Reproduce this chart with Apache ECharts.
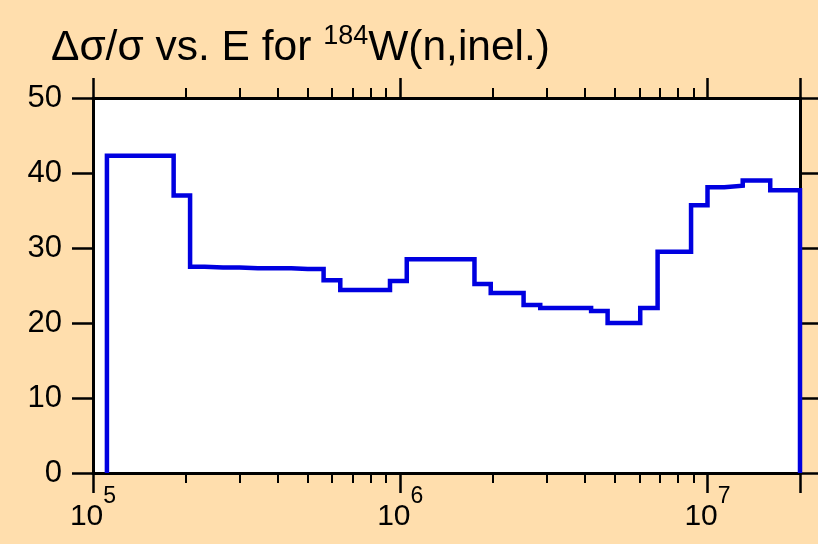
<!DOCTYPE html>
<html><head><meta charset="utf-8">
<script src="https://cdn.jsdelivr.net/npm/echarts@6/dist/echarts.min.js"></script>
<style>html,body{margin:0;padding:0;background:#FFDEAD;} #c{width:818px;height:544px;}</style>
</head><body><div id="c"></div>
<script>
// Bin edges of the energy grid (eV) and relative uncertainty (%) per bin
const binEdges = [1.11e5, 1.83e5, 2.07e5, 2.31e5, 2.65e5, 3.0e5, 3.44e5, 3.9e5, 4.42e5, 5.0e5,
  5.63e5, 6.38e5, 9.26e5, 1.05e6, 1.744e6, 1.97e6, 2.52e6, 2.855e6, 4.18e6, 4.73e6,
  6.04e6, 6.88e6, 8.84e6, 1.0e7, 1.134e7, 1.302e7, 1.6e7, 2.0e7];
const relUncert = [42.3, 37.0, 27.5, 27.4, 27.4, 27.3, 27.3, 27.3, 27.2, 27.2,
  25.7, 24.4, 25.6, 28.5, 25.2, 24.0, 22.4, 22.0, 21.6, 20.0,
  22.0, 29.5, 35.7, 38.1, 38.3, 39.0, 37.7];
const majorXTicks = [1e5, 1e6, 1e7, 2e7];
const xLabelTicks = [1e5, 1e6, 1e7];
const minorXTicks = [2e5, 3e5, 4e5, 5e5, 6e5, 7e5, 8e5, 9e5, 2e6, 3e6, 4e6, 5e6, 6e6, 7e6, 8e6, 9e6];
const yTickLabels = [0, 10, 20, 30, 40, 50];

const FONT = "'Liberation Sans', Arial, sans-serif";
const BLK = '#000';

// histogram outline points (step drawn by the library)
const pts = [[binEdges[0], 0]];
for (let i = 0; i < relUncert.length; i++) pts.push([binEdges[i], relUncert[i]]);
pts.push([binEdges[binEdges.length - 1], relUncert[relUncert.length - 1]]);
pts.push([binEdges[binEdges.length - 1], 0]);

function xFmt(v) {
  const e = Math.round(Math.log10(v));
  if (Math.abs(v - Math.pow(10, e)) > 1e-6 * v) return '';
  return '{b|10}{e|' + e + '}';
}

const baseX = {
  type: 'log', logBase: 10, min: 1e5, max: 2e7, gridIndex: 0,
  splitLine: { show: false }, minorTick: { show: false }, minorSplitLine: { show: false }
};

const chart = echarts.init(document.getElementById('c'), null, { renderer: 'canvas' });
chart.setOption({
  animation: false,
  backgroundColor: '#FFDEAD',
  title: {
    left: 46, top: 18, padding: 5,
    text: '{a|Δσ/σ vs. E for }{s|184}{a|W(n,inel.)}',
    textStyle: {
      fontWeight: 'normal', fontFamily: FONT,
      rich: {
        a: { fontSize: 42.5, fontFamily: FONT, fontWeight: 'normal', color: BLK, lineHeight: 50 },
        s: { fontSize: 27, fontFamily: FONT, fontWeight: 'normal', color: BLK, lineHeight: 27, verticalAlign: 'top' }
      }
    }
  },
  grid: { left: 93, right: 18, top: 98, bottom: 71, show: true, backgroundColor: '#ffffff', borderWidth: 0, containLabel: false, outerBoundsMode: 'none' },
  xAxis: [
    Object.assign({}, baseX, {
      position: 'bottom',
      axisLine: { show: true, onZero: false, lineStyle: { color: BLK, width: 3 } },
      axisTick: { show: true, inside: false, length: 20, customValues: majorXTicks, lineStyle: { color: BLK, width: 2.5 } },
      axisLabel: {
        show: true, margin: 12, customValues: xLabelTicks, formatter: xFmt, hideOverlap: false,
        rich: {
          b: { fontSize: 30, fontFamily: FONT, color: BLK, lineHeight: 64 },
          e: { fontSize: 23, fontFamily: FONT, color: BLK, lineHeight: 23, verticalAlign: 'top' }
        }
      }
    }),
    Object.assign({}, baseX, {
      position: 'bottom',
      axisLine: { show: false, onZero: false },
      axisTick: { show: true, inside: false, length: 10, customValues: minorXTicks, lineStyle: { color: BLK, width: 2 } },
      axisLabel: { show: false }
    }),
    Object.assign({}, baseX, {
      position: 'top',
      axisLine: { show: true, onZero: false, lineStyle: { color: BLK, width: 3 } },
      axisTick: { show: true, inside: false, length: 20, customValues: majorXTicks, lineStyle: { color: BLK, width: 2.5 } },
      axisLabel: { show: false }
    }),
    Object.assign({}, baseX, {
      position: 'top',
      axisLine: { show: false, onZero: false },
      axisTick: { show: true, inside: false, length: 10, customValues: minorXTicks, lineStyle: { color: BLK, width: 2 } },
      axisLabel: { show: false }
    })
  ],
  yAxis: [
    {
      type: 'value', min: 0, max: 50, interval: 10, position: 'left',
      splitLine: { show: false },
      axisLine: { show: true, onZero: false, lineStyle: { color: BLK, width: 3 } },
      axisTick: { show: true, inside: false, length: 21, customValues: yTickLabels, lineStyle: { color: BLK, width: 2.5 } },
      axisLabel: { show: true, margin: 31, fontSize: 31, fontFamily: FONT, color: BLK, customValues: yTickLabels, showMinLabel: true, showMaxLabel: true, hideOverlap: false }
    },
    {
      type: 'value', min: 0, max: 50, interval: 10, position: 'right',
      splitLine: { show: false },
      axisLine: { show: true, onZero: false, lineStyle: { color: BLK, width: 3 } },
      axisTick: { show: true, inside: false, length: 21, customValues: yTickLabels, lineStyle: { color: BLK, width: 2.5 } },
      axisLabel: { show: false }
    }
  ],
  series: [{
    type: 'line', xAxisIndex: 0, yAxisIndex: 0, step: 'end',
    data: pts, showSymbol: false, symbol: 'none', clip: false, z: 5,
    lineStyle: { color: '#0000e0', width: 4.5, join: 'miter', cap: 'butt' }
  }]
});
</script></body></html>
